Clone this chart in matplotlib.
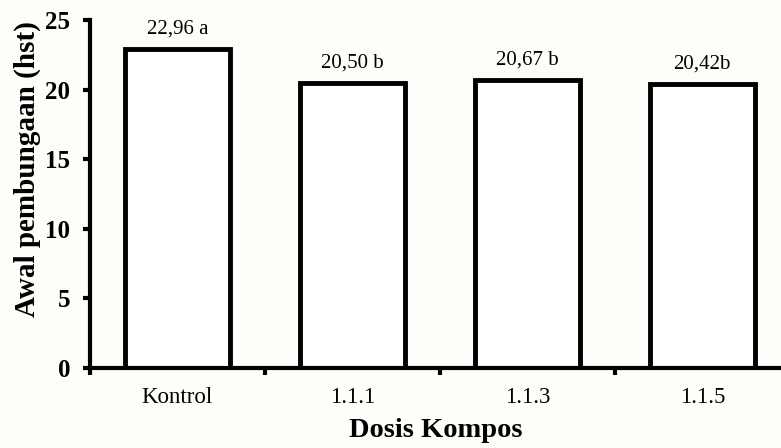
import numpy as np
import matplotlib.pyplot as plt

categories = ['Kontrol', '1.1.1', '1.1.3', '1.1.5']
values = [22.96, 20.50, 20.67, 20.42]
labels = ['22,96 a', '20,50 b', '20,67 b', '20,42b']

plt.rcParams['font.family'] = ['Liberation Serif', 'DejaVu Serif']

fig = plt.figure(figsize=(7.81, 4.48), dpi=100, facecolor='#fdfdfa')
ax = fig.add_axes([0.115, 0.179, 0.885, 0.776])
ax.set_facecolor('#fdfdfa')

x = np.arange(len(categories))
ax.bar(x, values, width=0.6, color='white', edgecolor='black', linewidth=3.5, zorder=2)

for xi, v, lab in zip(x, values, labels):
    ax.annotate(lab, (xi, v), xytext=(0, 7.5), textcoords='offset points',
                ha='center', va='bottom', fontsize=15)

ax.set_xlim(-0.5, 3.45)
ax.set_ylim(0, 25)
ax.set_yticks([0, 5, 10, 15, 20, 25])
ax.set_yticklabels(['0', '5', '10', '15', '20', '25'], fontweight='bold', fontsize=18)

# category labels between boundary ticks
ax.set_xticks(np.arange(-0.5, 3.5, 1.0))
ax.set_xticklabels([])
ax.set_xticks(x, minor=True)
ax.set_xticklabels(categories, minor=True, fontsize=16.5)
ax.tick_params(axis='x', which='minor', length=0, pad=14)
ax.tick_params(axis='x', which='major', length=5, width=3, direction='out')
ax.tick_params(axis='y', length=5, width=3, direction='out', pad=9)

for s in ['top', 'right']:
    ax.spines[s].set_visible(False)
for s in ['left', 'bottom']:
    ax.spines[s].set_linewidth(3)

ax.set_ylabel('Awal pembungaan (hst)', fontweight='bold', fontsize=21)
ax.yaxis.set_label_coords(-0.07, 0.572)
ax.set_xlabel('Dosis Kompos', fontweight='bold', fontsize=20.5)
ax.xaxis.set_label_coords(0.5, -0.145)

fig.savefig('out.png', dpi=100, facecolor=fig.get_facecolor())
